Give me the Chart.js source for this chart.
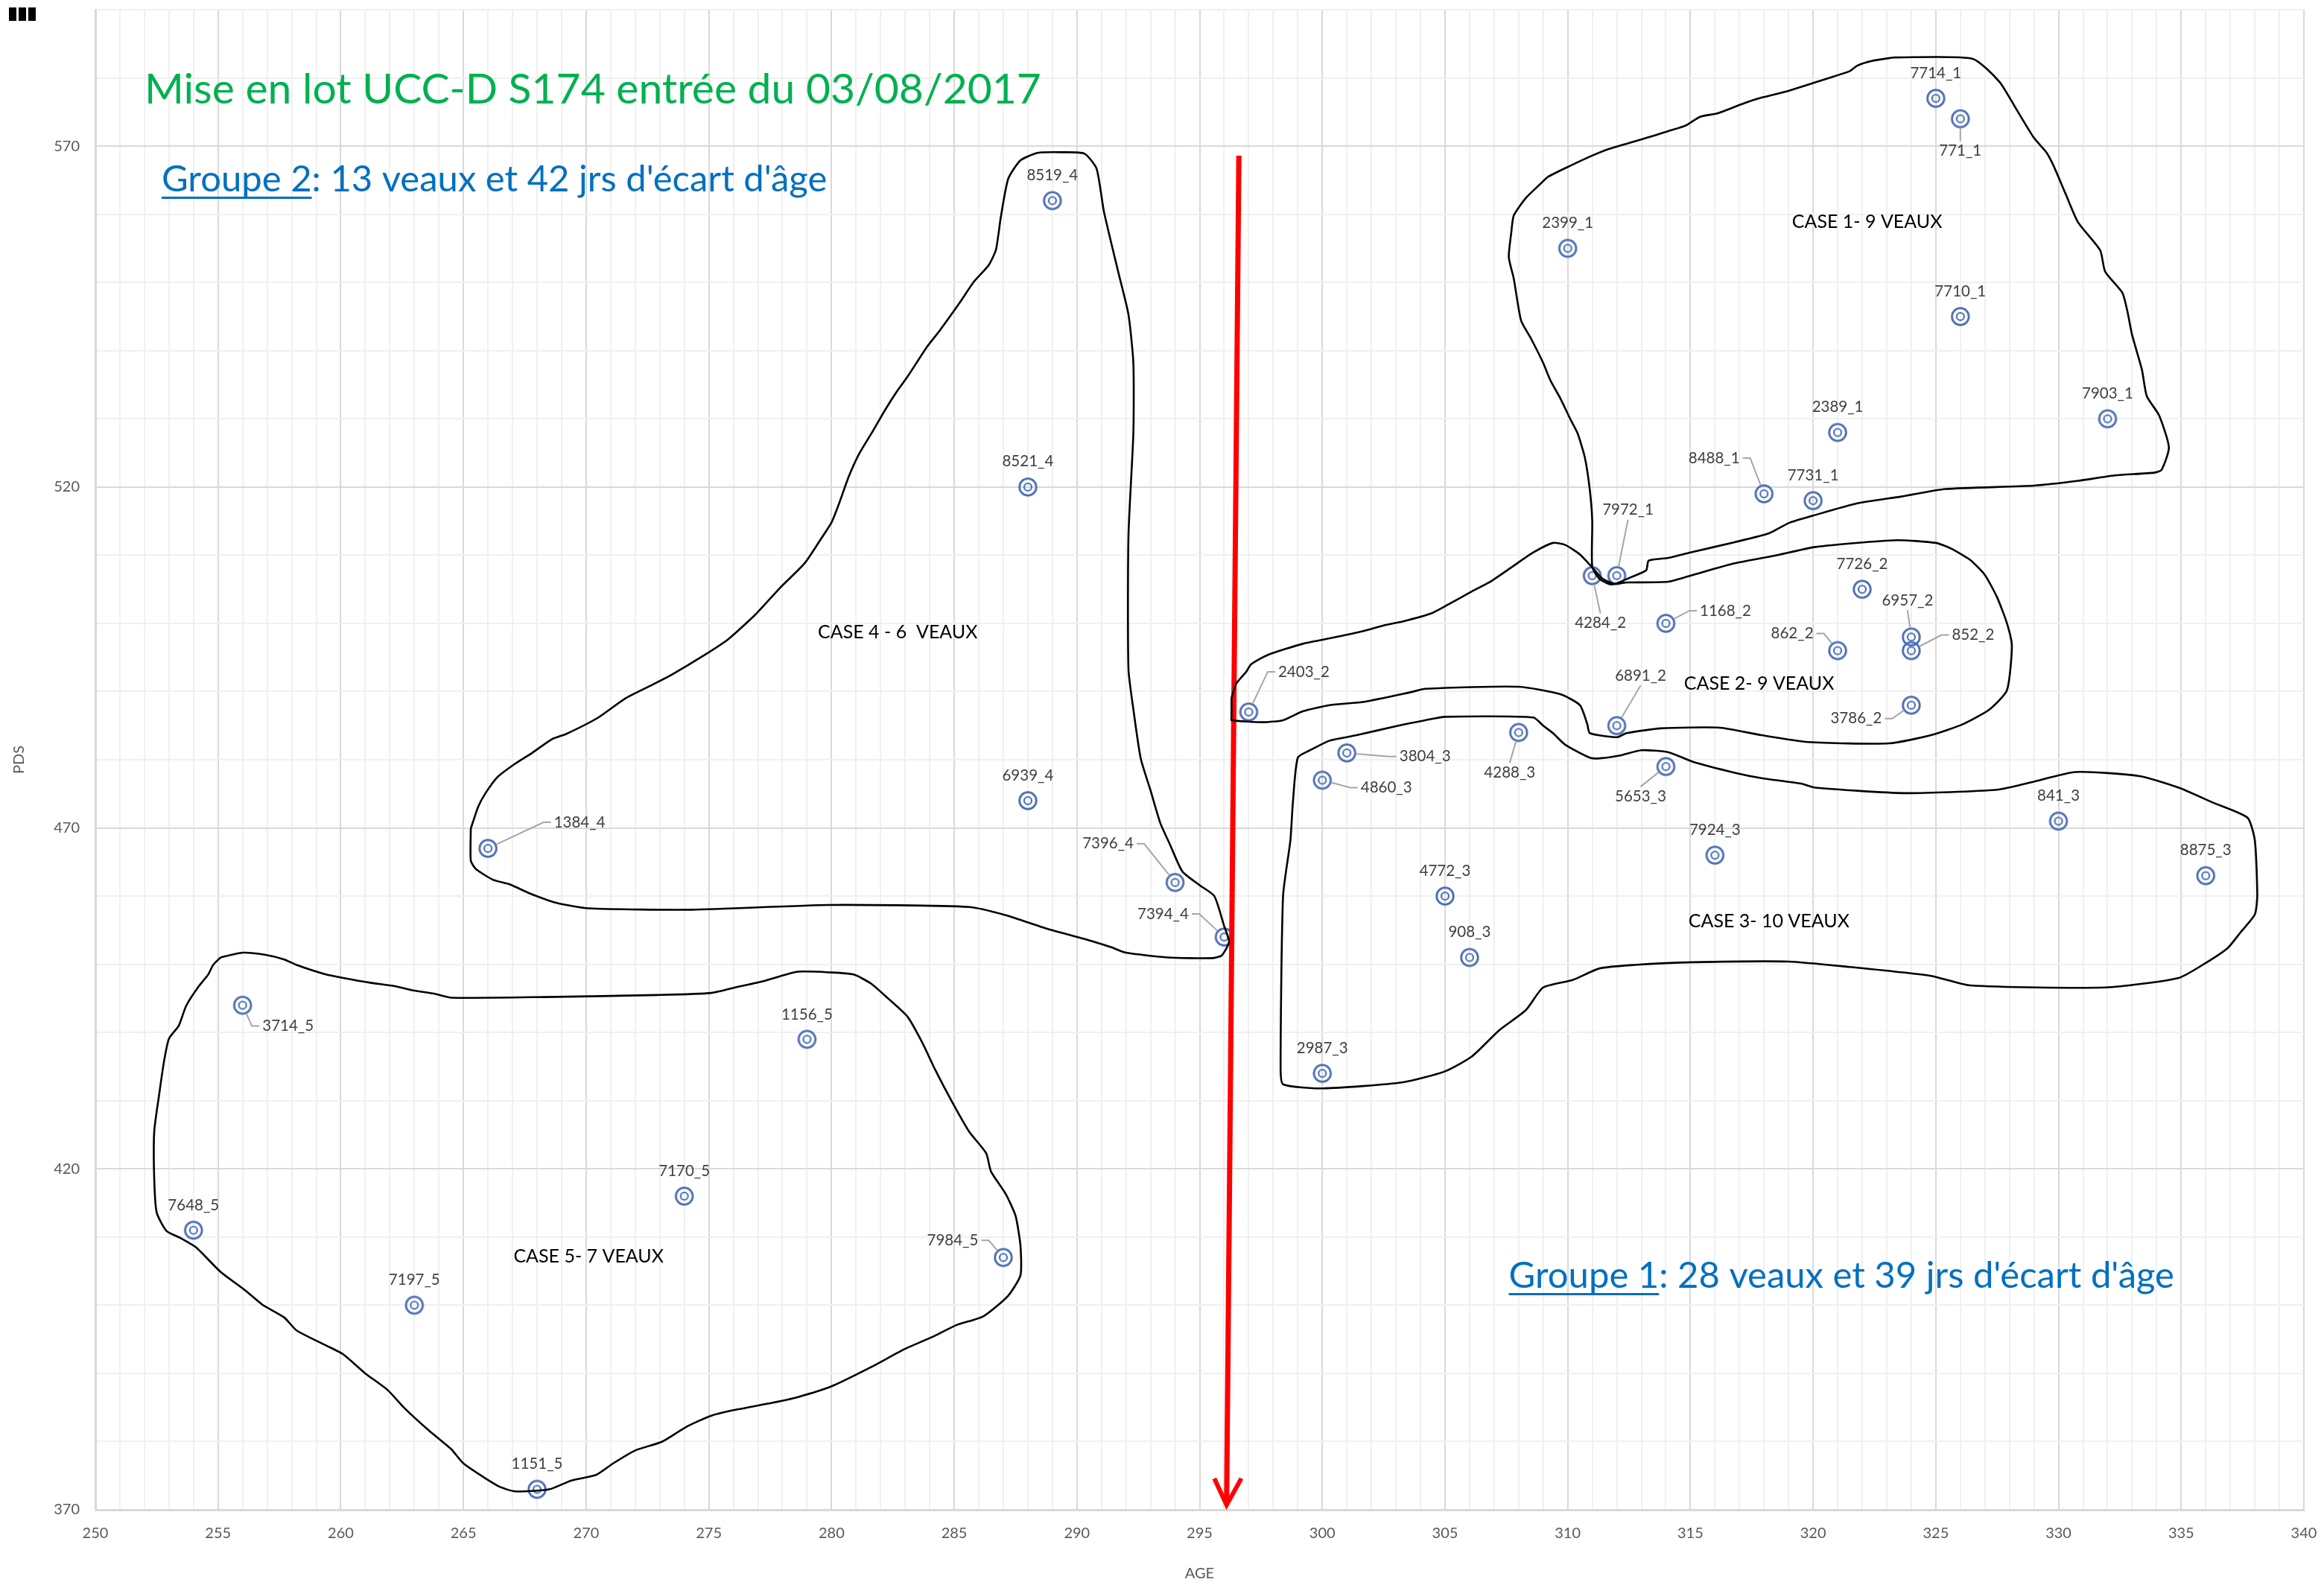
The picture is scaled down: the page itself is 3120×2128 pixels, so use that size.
<!DOCTYPE html>
<html lang="fr">
<head>
<meta charset="utf-8">
<title>Mise en lot UCC-D S174</title>
<script src="https://cdn.jsdelivr.net/npm/chart.js@4.4.1/dist/chart.umd.min.js"></script>
<style>
  html, body { margin: 0; padding: 0; background: #fff; }
</style>
</head>
<body>
<canvas id="graphique-lots" width="3120" height="2128"></canvas>
<script>
// veaux : identifiant, age (jours) et poids (PDS)
const veaux = ['7714_1', '771_1', '2399_1', '7710_1', '7903_1', '2389_1', '8488_1', '7731_1', '7972_1',
  '4284_2', '1168_2', '7726_2', '6957_2', '852_2', '862_2', '3786_2', '6891_2', '2403_2',
  '3804_3', '4860_3', '4288_3', '5653_3', '7924_3', '841_3', '8875_3', '4772_3', '908_3', '2987_3',
  '8519_4', '8521_4', '6939_4', '1384_4', '7396_4', '7394_4',
  '3714_5', '1156_5', '7170_5', '7648_5', '7984_5', '7197_5', '1151_5'];
const ages = [325, 326, 310, 326, 332, 321, 318, 320, 312,
  311, 314, 322, 324, 324, 321, 324, 312, 297,
  301, 300, 308, 314, 316, 330, 336, 305, 306, 300,
  289, 288, 288, 266, 294, 296,
  256, 279, 274, 254, 287, 263, 268];
const poids = [577, 574, 555, 545, 530, 528, 519, 518, 507,
  507, 500, 505, 498, 496, 496, 488, 485, 487,
  481, 477, 484, 479, 466, 471, 463, 460, 451, 434,
  562, 520, 474, 467, 462, 454,
  444, 439, 416, 411, 407, 400, 373];

// graduations
const agesGraduation = [250, 255, 260, 265, 270, 275, 280, 285, 290, 295, 300, 305, 310, 315, 320, 325, 330, 335, 340];
const poidsGraduation = [370, 420, 470, 520, 570];

// contours tracés à la main autour de chaque case [age, pds]
const contourCase1 = [[323.3, 583.0], [326.5, 582.8], [327.6, 579.4], [328.3, 575.3], [329.0, 571.2], [329.5, 569.1],
  [329.8, 567.1], [330.3, 562.9], [330.8, 558.8], [331.7, 554.7], [331.9, 551.6], [332.6, 548.5], [332.8, 545.9],
  [333.0, 542.3], [333.4, 537.2], [333.6, 533.3], [334.1, 530.5], [334.5, 525.8], [334.2, 522.5], [333.9, 522.1],
  [332.3, 521.7], [330.8, 520.9], [329.0, 520.2], [325.4, 519.7], [323.6, 518.6], [321.8, 517.6], [320.0, 515.8],
  [319.0, 514.7], [318.2, 513.2], [316.8, 511.9], [315.0, 510.4], [314.1, 509.6], [313.3, 509.2], [313.2, 507.8],
  [312.6, 506.8], [311.8, 505.7], [311.3, 506.5], [311.0, 508.3], [311.0, 515.0], [310.9, 519.6], [310.7, 524.3],
  [310.4, 527.9], [310.1, 530.0], [309.7, 533.0], [309.3, 535.6], [309.0, 538.2], [308.5, 541.8], [308.1, 544.4],
  [307.8, 550.6], [307.6, 553.7], [307.7, 557.3], [307.8, 559.8], [308.3, 562.4], [308.9, 564.5], [309.2, 565.5],
  [310.1, 567.1], [311.0, 568.6], [311.7, 569.6], [313.4, 571.4], [314.1, 572.2], [314.8, 573.0], [315.4, 574.3],
  [316.1, 574.8], [317.2, 576.3], [317.9, 577.1], [319.0, 578.1], [320.4, 579.7], [321.5, 581.0], [321.8, 581.8],
  [322.4, 582.5]];
const contourCase2 = [[296.3, 489.1], [296.5, 491.2], [296.9, 492.9], [297.1, 494.0], [297.8, 495.4], [299.2, 497.0],
  [300.3, 497.8], [301.7, 498.9], [302.5, 499.7], [303.3, 500.3], [304.4, 501.4], [305.1, 502.7], [306.1, 504.7],
  [306.8, 506.0], [307.7, 508.2], [308.6, 510.4], [309.4, 511.8], [309.9, 511.5], [310.5, 510.1], [311.0, 508.2],
  [311.4, 506.6], [311.9, 505.8], [312.4, 506.0], [314.1, 506.1], [315.1, 507.1], [316.8, 508.8], [318.4, 509.9],
  [320.1, 511.2], [323.4, 512.2], [325.0, 511.8], [325.6, 511.0], [326.4, 509.3], [327.0, 507.1], [327.5, 503.8],
  [327.9, 500.0], [328.1, 496.7], [327.9, 490.2], [327.2, 487.4], [326.1, 485.2], [324.8, 483.6], [323.1, 482.4],
  [319.8, 482.6], [317.9, 483.6], [316.2, 484.7], [313.8, 484.6], [312.4, 483.9], [312.0, 483.3], [310.9, 483.9],
  [310.8, 485.2], [310.5, 488.0], [309.7, 489.6], [308.0, 490.7], [304.2, 490.4], [303.6, 489.9], [301.7, 488.5],
  [300.3, 488.0], [299.2, 487.1], [298.4, 485.8], [297.6, 485.5], [296.3, 485.8], [296.3, 486.3]];
const contourCase3 = [[299.5, 481.4], [300.3, 482.8], [301.4, 483.6], [303.1, 485.0], [304.2, 485.8], [305.0, 486.3],
  [308.6, 486.2], [309.0, 485.0], [309.4, 483.9], [309.9, 482.2], [310.9, 480.3], [311.3, 480.2], [312.1, 480.6],
  [313.0, 481.4], [314.1, 481.1], [315.1, 479.7], [316.8, 478.1], [317.9, 477.3], [319.5, 476.5], [320.1, 475.9],
  [323.7, 475.1], [327.5, 475.6], [328.9, 476.7], [330.7, 478.2], [333.3, 477.6], [334.9, 475.9], [336.3, 473.7],
  [337.7, 471.5], [338.0, 468.2], [338.1, 460.0], [338.0, 457.3], [337.4, 454.6], [336.9, 452.4], [336.0, 450.2],
  [334.9, 448.0], [331.9, 446.6], [326.4, 446.9], [324.8, 448.3], [321.5, 449.6], [319.0, 450.4], [315.1, 450.3],
  [312.7, 449.9], [311.3, 449.4], [310.2, 447.7], [309.0, 446.6], [308.3, 443.3], [307.2, 440.3], [306.1, 436.5],
  [305.0, 434.3], [303.3, 432.7], [300.0, 431.8], [298.4, 432.4], [298.3, 434.8], [298.4, 460.0], [298.7, 468.2],
  [298.8, 473.7], [299.0, 480.3]];
const contourCase4 = [[265.3, 469.9], [265.6, 473.1], [265.9, 475.1], [266.4, 477.5], [267.1, 479.4], [267.8, 481.0],
  [268.6, 483.0], [269.2, 483.8], [270.5, 486.2], [271.6, 489.0], [272.7, 491.0], [273.5, 492.5], [274.8, 495.3],
  [275.8, 497.7], [276.9, 501.3], [277.9, 505.2], [278.9, 508.8], [279.5, 512.0], [280.0, 514.8], [280.3, 517.5],
  [280.7, 521.5], [281.1, 524.7], [281.7, 528.3], [282.2, 531.4], [282.7, 534.2], [283.1, 536.2], [283.9, 540.6],
  [284.4, 542.9], [285.2, 546.9], [285.8, 550.1], [286.4, 552.5], [286.7, 554.8], [286.9, 559.6], [287.2, 565.2],
  [287.7, 567.9], [288.4, 569.0], [289.4, 569.1], [290.3, 568.9], [290.8, 566.7], [291.1, 560.4], [291.7, 551.3],
  [292.1, 545.3], [292.3, 538.2], [292.3, 527.9], [292.1, 512.8], [292.1, 493.3], [292.3, 487.4], [292.6, 480.2],
  [293.0, 475.5], [293.4, 470.7], [293.8, 467.5], [294.3, 463.6], [295.0, 461.6], [295.6, 460.0], [296.0, 455.6],
  [296.2, 453.3], [295.9, 451.3], [295.5, 450.9], [293.7, 451.0], [292.0, 451.7], [291.4, 452.5], [290.7, 453.3],
  [288.8, 455.2], [287.1, 457.2], [285.6, 458.4], [279.9, 458.7], [274.3, 458.0], [270.1, 458.2], [268.8, 459.0],
  [267.7, 460.4], [266.9, 461.7], [266.2, 462.4], [265.5, 464.0], [265.3, 465.2]];
const contourCase5 = [[255.1, 451.0], [256.0, 451.7], [256.9, 451.4], [257.7, 450.7], [258.2, 449.9], [259.4, 448.5],
  [260.1, 448.0], [261.2, 447.3], [262.2, 446.8], [262.9, 446.2], [263.8, 445.7], [264.5, 445.1], [268.3, 445.2],
  [272.9, 445.5], [275.1, 445.8], [276.2, 446.7], [277.2, 447.5], [278.6, 448.9], [280.0, 448.8], [280.9, 448.5],
  [281.6, 447.2], [282.3, 445.0], [283.1, 442.3], [283.7, 438.5], [284.2, 434.7], [284.9, 429.9], [285.6, 425.5],
  [286.3, 422.3], [286.5, 419.6], [287.1, 416.3], [287.5, 413.1], [287.7, 408.7], [287.7, 404.4], [287.2, 401.4],
  [286.2, 398.4], [285.1, 397.1], [284.2, 395.5], [283.0, 393.6], [281.6, 390.9], [280.0, 388.1], [278.6, 386.5],
  [277.6, 385.7], [276.0, 384.6], [275.1, 383.8], [274.1, 382.2], [273.1, 380.0], [272.0, 378.7], [271.1, 376.8],
  [270.4, 375.1], [269.4, 374.3], [268.5, 373.0], [267.1, 372.7], [266.4, 373.5], [265.0, 376.8], [264.5, 378.9],
  [263.6, 381.6], [262.6, 384.9], [261.9, 387.6], [261.0, 390.0], [260.1, 392.8], [259.4, 394.1], [258.2, 396.3],
  [257.7, 398.2], [256.8, 400.1], [256.1, 402.2], [255.1, 404.9], [254.1, 408.5], [253.5, 409.8], [252.9, 410.9],
  [252.5, 413.6], [252.4, 418.5], [252.4, 425.5], [252.6, 430.9], [252.8, 435.8], [253.0, 439.1], [253.4, 441.0],
  [253.7, 443.9], [254.2, 446.7], [254.6, 448.5], [254.8, 449.9]];

// flèche rouge de séparation des deux groupes
const flecheTrait = [[296.6, 568.6], [296.1, 371.2]];
const flechePointe = [[295.6, 374.6], [296.1, 370.7], [296.7, 374.6]];

// placement des étiquettes (px) : [dx, dy, cote du trait de rappel]
const placements = [[0, -34], [0, 43, 'h'], [0, -34], [0, -34], [0, -34], [0, -34], [-67, -48, 'd'], [0, -34], [15, -88, 'b'],
  [11, 64, 'h'], [80, -17, 'g'], [0, -34], [-5, -49, 'b'], [83, -21, 'g'], [-61, -23, 'd'], [-74, 18, 'd'], [32, -67, 'b'], [74, -54, 'g'],
  [105, 5, 'g'], [86, 10, 'g'], [-12, 54, 'h'], [-34, 40, 'h'], [0, -34], [0, -34], [0, -34], [0, -34], [0, -34], [0, -34],
  [0, -34], [0, -34], [0, -34], [123, -35, 'g'], [-90, -52, 'd'], [-82, -31, 'd'],
  [61, 28, 'g'], [0, -33], [0, -34], [0, -33], [-68, -23, 'd'], [0, -34], [0, -34]];

// textes posés sur le graphique
const textes = [
  { texte: 'CASE 1- 9 VEAUX', age: 322.2, pds: 558.9 },
  { texte: 'CASE 4 - 6  VEAUX', age: 282.7, pds: 498.7 },
  { texte: 'CASE 2- 9 VEAUX', age: 317.8, pds: 491.1 },
  { texte: 'CASE 3- 10 VEAUX', age: 318.2, pds: 456.3 },
  { texte: 'CASE 5- 7 VEAUX', age: 270.1, pds: 407.1 }
];
const groupes = [
  { souligne: 'Groupe 2', suite: ': 13 veaux et 42 jrs d\'écart d\'âge', age: 252.7, pds: 563.3 },
  { souligne: 'Groupe 1', suite: ': 28 veaux et 39 jrs d\'écart d\'âge', age: 307.6, pds: 402.5 }
];
const titre = { texte: 'Mise en lot UCC-D S174 entrée du 03/08/2017', age: 252.0, pds: 576.2 };

const POLICE = 'Lato, "Open Sans", sans-serif';

function creerMarqueur() {
  const c = document.createElement('canvas');
  c.width = 30;
  c.height = 30;
  const g = c.getContext('2d');
  g.strokeStyle = '#4a6db3';
  g.lineWidth = 2.8;
  g.beginPath();
  g.arc(15, 15, 11.3, 0, Math.PI * 2);
  g.stroke();
  g.lineWidth = 2.2;
  g.beginPath();
  g.arc(15, 15, 5, 0, Math.PI * 2);
  g.stroke();
  return c;
}

function enPoints(liste, fermer) {
  const pts = liste.map(([x, y]) => ({ x, y }));
  if (fermer) pts.push({ ...pts[0] });
  return pts;
}

function contour(liste) {
  return {
    data: enPoints(liste, true),
    showLine: true,
    borderColor: '#000000',
    borderWidth: 2.6,
    tension: 0.2,
    pointRadius: 0,
    fill: false
  };
}

const etiquettes = {
  id: 'etiquettes',
  afterDraw(chart) {
    const { ctx, scales: { x, y } } = chart;
    ctx.save();

    // étiquettes des veaux + traits de rappel
    ctx.font = '20.5px ' + POLICE;
    ctx.textAlign = 'center';
    ctx.textBaseline = 'middle';
    veaux.forEach((nom, i) => {
      const px = x.getPixelForValue(ages[i]);
      const py = y.getPixelForValue(poids[i]);
      const [dx, dy, cote] = placements[i];
      const lx = px + dx, ly = py + dy;
      const w = ctx.measureText(nom).width;
      if (cote) {
        let chemin;
        if (cote === 'g') chemin = [[lx - w / 2 - 14, ly], [lx - w / 2 - 4, ly]];
        else if (cote === 'd') chemin = [[lx + w / 2 + 14, ly], [lx + w / 2 + 4, ly]];
        else if (cote === 'h') chemin = [[lx, ly - 13]];
        else chemin = [[lx, ly + 13]];
        const [cx, cy] = chemin[0];
        const d = Math.hypot(cx - px, cy - py) || 1;
        ctx.strokeStyle = '#a6a6a6';
        ctx.lineWidth = 2;
        ctx.beginPath();
        ctx.moveTo(px + (cx - px) / d * 12, py + (cy - py) / d * 12);
        chemin.forEach(([a, b]) => ctx.lineTo(a, b));
        ctx.stroke();
      }
      ctx.fillStyle = '#404040';
      ctx.fillText(nom, lx, ly);
    });

    // noms des cases
    ctx.font = '25px ' + POLICE;
    ctx.fillStyle = '#000000';
    textes.forEach(t => ctx.fillText(t.texte, x.getPixelForValue(t.age), y.getPixelForValue(t.pds)));

    // titre
    ctx.textAlign = 'left';
    ctx.textBaseline = 'alphabetic';
    ctx.font = '57px ' + POLICE;
    ctx.fillStyle = '#00b050';
    ctx.fillText(titre.texte, x.getPixelForValue(titre.age), y.getPixelForValue(titre.pds));

    // groupes, avec la première partie soulignée
    ctx.font = '49px ' + POLICE;
    ctx.fillStyle = '#0070c0';
    ctx.strokeStyle = '#0070c0';
    groupes.forEach(g => {
      const gx = x.getPixelForValue(g.age);
      const gy = y.getPixelForValue(g.pds);
      const w1 = ctx.measureText(g.souligne).width;
      ctx.fillText(g.souligne, gx, gy);
      ctx.fillText(g.suite, gx + w1, gy);
      ctx.lineWidth = 3;
      ctx.beginPath();
      ctx.moveTo(gx, gy + 8);
      ctx.lineTo(gx + w1, gy + 8);
      ctx.stroke();
    });

    // petite marque noire en haut à gauche
    ctx.fillStyle = '#000000';
    [12, 25, 38].forEach(bx => ctx.fillRect(bx, 10, 10, 18));
    ctx.restore();
  }
};

const police = { family: POLICE, size: 20 };

new Chart(document.getElementById('graphique-lots'), {
  type: 'scatter',
  data: {
    datasets: [
      contour(contourCase1),
      contour(contourCase2),
      contour(contourCase3),
      contour(contourCase4),
      contour(contourCase5),
      { data: enPoints(flecheTrait), showLine: true, borderColor: '#ff0000', borderWidth: 7, pointRadius: 0 },
      { data: enPoints(flechePointe), showLine: true, borderColor: '#ff0000', borderWidth: 6, pointRadius: 0, borderJoinStyle: 'miter' },
      {
        data: veaux.map((v, i) => ({ x: ages[i], y: poids[i] })),
        pointStyle: creerMarqueur(),
        pointRadius: 12
      }
    ]
  },
  options: {
    responsive: false,
    animation: false,
    devicePixelRatio: 1,
    events: [],
    layout: { padding: { top: 10, right: 27, left: 0, bottom: 0 } },
    plugins: { legend: { display: false }, tooltip: { enabled: false } },
    scales: {
      x: {
        type: 'linear',
        min: 250,
        max: 340,
        afterFit: s => { s.height = 101; s.paddingLeft = 0; s.paddingRight = 0; },
        ticks: {
          stepSize: 1,
          autoSkip: false,
          maxRotation: 0,
          padding: 20,
          color: '#595959',
          font: police,
          callback: v => agesGraduation.includes(v) ? v : ''
        },
        grid: {
          drawTicks: false,
          lineWidth: 2,
          color: c => agesGraduation.includes(c.tick.value) ? '#d9d9d9' : '#f0f0f0'
        },
        border: { color: '#d9d9d9', width: 3 },
        title: { display: true, text: 'AGE', color: '#595959', font: police, padding: { top: 0, bottom: 3 } }
      },
      y: {
        type: 'linear',
        min: 370,
        max: 590,
        afterFit: s => { s.width = 128; s.paddingTop = 0; s.paddingBottom = 0; },
        ticks: {
          stepSize: 10,
          autoSkip: false,
          padding: 21,
          color: '#595959',
          font: police,
          callback: v => poidsGraduation.includes(v) ? v : ''
        },
        grid: {
          drawTicks: false,
          lineWidth: 2,
          color: c => poidsGraduation.includes(c.tick.value) ? '#d9d9d9' : '#f0f0f0'
        },
        border: { color: '#d9d9d9', width: 3 },
        title: { display: true, text: 'PDS', color: '#595959', font: police, padding: { top: 14, bottom: 0 } }
      }
    }
  },
  plugins: [etiquettes]
});
</script>
</body>
</html>
